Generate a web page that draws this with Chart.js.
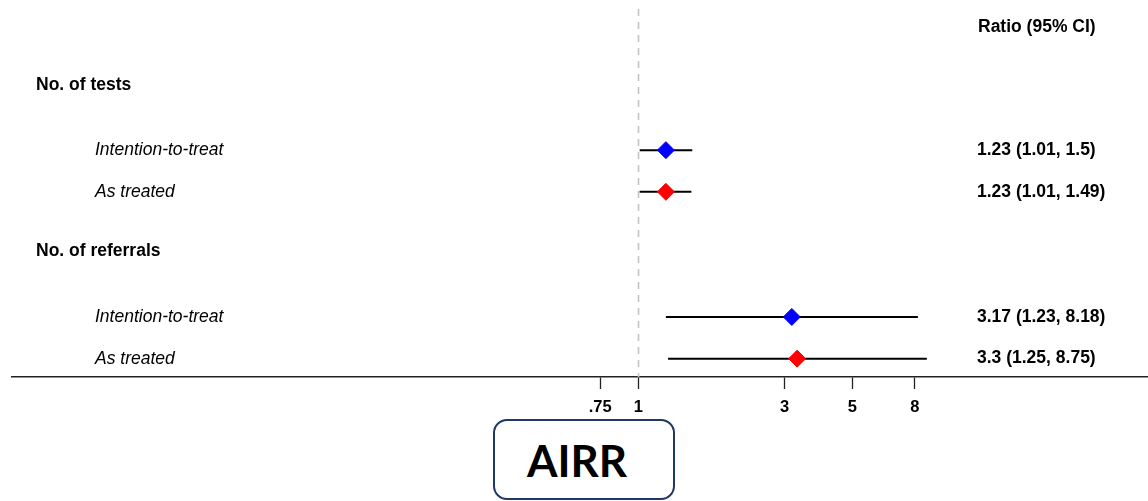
<!DOCTYPE html>
<html>
<head>
<meta charset="utf-8">
<script src="https://cdn.jsdelivr.net/npm/chart.js@4/dist/chart.umd.min.js"></script>
<style>
  html, body { margin: 0; padding: 0; background: #fff; }
  #wrap { position: relative; width: 1148px; height: 501px; }
  #forest { display: block; }
  #measure {
    position: absolute; left: 493px; top: 419px; width: 164px; height: 76px;
    padding: 1px 14px 0 0;
    border: 2.5px solid #1f3864; border-radius: 14px; background: #fff;
    font-family: Lato, "Open Sans", sans-serif; font-weight: 700; font-size: 44px;
    color: #000; display: flex; align-items: center; justify-content: center;
    box-sizing: content-box;
  }
</style>
</head>
<body>
<div id="wrap">
  <canvas id="forest" width="1148" height="501"></canvas>
  <div id="measure">AIRR</div>
</div>
<script>
// Outcome groups and the analyses shown under each
const groups = ['No. of tests', 'No. of referrals'];
const analyses = ['Intention-to-treat', 'As treated', 'Intention-to-treat', 'As treated'];

// Ratio estimates with 95% confidence limits, one entry per analysis row
const ratio = [1.23, 1.23, 3.17, 3.3];
const lower = [1.01, 1.01, 1.23, 1.25];
const upper = [1.5, 1.49, 8.18, 8.75];
const markerColors = ['#0000ff', '#ff0000', '#0000ff', '#ff0000'];

// Row positions (bottom row = 1)
const rowPos = [6, 5, 2, 1];
const groupPos = [7.56, 3.58];
const headerPos = 8.95;

// Axis ticks
const tickValues = [0.75, 1, 3, 5, 8];
const tickLabels = ['.75', '1', '3', '5', '8'];

const FONT = '"Liberation Sans", Arial, sans-serif';

const ciDatasets = ratio.map((r, i) => ({
  type: 'line',
  data: [{ x: lower[i], y: rowPos[i] }, { x: upper[i], y: rowPos[i] }],
  borderColor: '#000',
  borderWidth: 2,
  pointRadius: 0,
  order: 2
}));

const pointDataset = {
  type: 'scatter',
  data: ratio.map((r, i) => ({ x: r, y: rowPos[i] })),
  pointStyle: 'rectRot',
  pointRadius: 8.5,
  backgroundColor: markerColors,
  borderColor: markerColors,
  borderWidth: 1,
  order: 1
};

// Reference line at ratio = 1 and the text columns
const forestDecor = {
  id: 'forestDecor',
  beforeDatasetsDraw(chart) {
    const { ctx, chartArea } = chart;
    const x = Math.round(chart.scales.x.getPixelForValue(1)) + 0.5;
    ctx.save();
    ctx.strokeStyle = '#c4c4c4';
    ctx.lineWidth = 1.6;
    ctx.setLineDash([7, 6]);
    ctx.beginPath();
    ctx.moveTo(x, chartArea.top + 9);
    ctx.lineTo(x, chartArea.bottom);
    ctx.stroke();
    ctx.restore();
  },
  afterDraw(chart) {
    const { ctx } = chart;
    const y = chart.scales.y;
    ctx.save();
    ctx.fillStyle = '#000';
    ctx.textBaseline = 'middle';
    ctx.textAlign = 'left';

    ctx.font = 'bold 17.5px ' + FONT;
    ctx.fillText('Ratio (95% CI)', 978, y.getPixelForValue(headerPos));
    groups.forEach((g, i) => ctx.fillText(g, 36, y.getPixelForValue(groupPos[i])));

    ctx.font = 'italic 17.5px ' + FONT;
    analyses.forEach((a, i) => ctx.fillText(a, 95, y.getPixelForValue(rowPos[i])));

    ctx.font = 'bold 17.5px ' + FONT;
    ratio.forEach((r, i) => {
      ctx.fillText(r + ' (' + lower[i] + ', ' + upper[i] + ')', 977, y.getPixelForValue(rowPos[i]));
    });
    ctx.restore();
  }
};

new Chart(document.getElementById('forest'), {
  data: { datasets: [pointDataset, ...ciDatasets] },
  options: {
    responsive: false,
    animation: false,
    layout: { autoPadding: false, padding: { left: 12, right: 0, top: 0, bottom: 0 } },
    plugins: { legend: { display: false }, tooltip: { enabled: false } },
    scales: {
      x: {
        type: 'logarithmic',
        min: 0.00901,
        max: 46.15,
        afterBuildTicks(scale) {
          scale.ticks = tickValues.map(v => ({ value: v }));
        },
        afterFit(scale) { scale.height = 124; },
        ticks: {
          autoSkip: false,
          maxRotation: 0,
          padding: 9,
          color: '#000',
          font: { family: FONT, size: 16.5, weight: 'bold' },
          callback(value) {
            const i = tickValues.indexOf(value);
            return i >= 0 ? tickLabels[i] : '';
          }
        },
        grid: {
          drawOnChartArea: false,
          drawTicks: true,
          tickLength: 12,
          tickWidth: 1.3,
          tickColor: '#222'
        },
        border: { display: true, color: '#222', width: 1.5 }
      },
      y: {
        type: 'linear',
        display: false,
        min: 0.56,
        max: 9.6
      }
    }
  },
  plugins: [forestDecor]
});
</script>
</body>
</html>
